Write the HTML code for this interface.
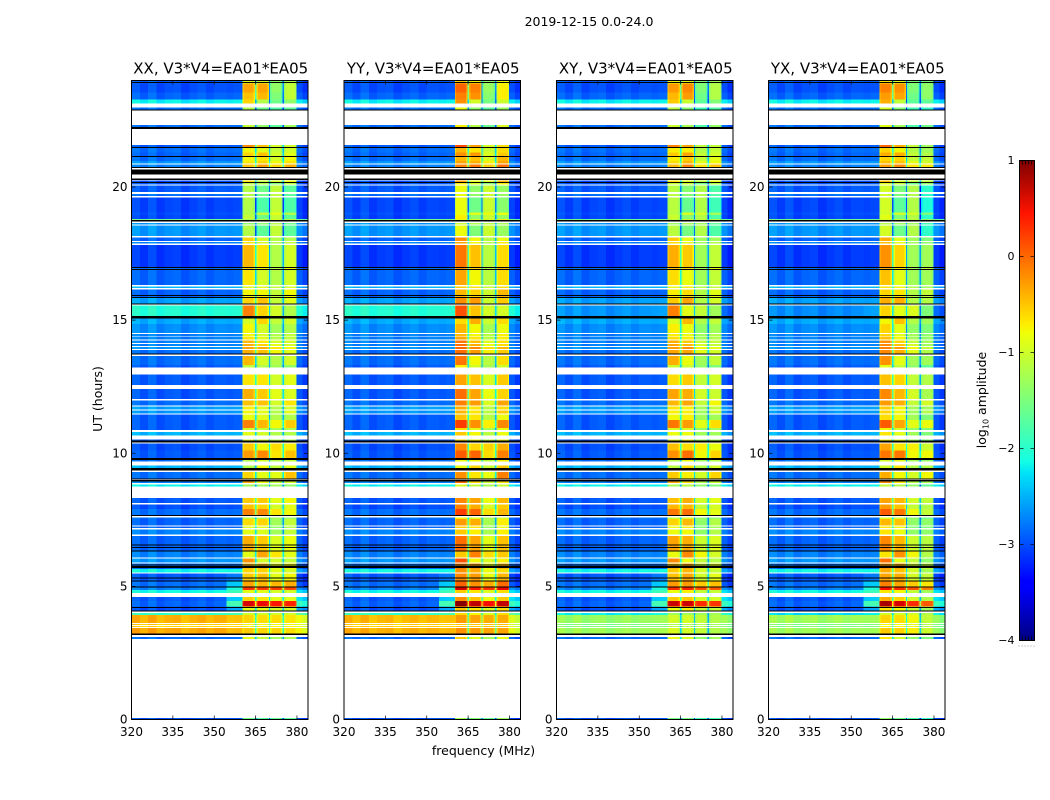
<!DOCTYPE html>
<html lang="en">
<head>
<meta charset="utf-8">
<title>2019-12-15 0.0-24.0</title>
<style>
html,body{margin:0;padding:0;background:#fff;}
svg{display:block;}
text{font-family:"DejaVu Sans","Liberation Sans",sans-serif;fill:#000;}
</style>
</head>
<body>
<svg id="figure" width="1050" height="800" viewBox="0 0 1050 800" xmlns="http://www.w3.org/2000/svg">
  <defs>
    <linearGradient id="jet-gradient" x1="0" y1="1" x2="0" y2="0"></linearGradient>
  </defs>
  <rect x="0" y="0" width="1050" height="800" fill="#ffffff"/>
  <text x="589" y="26" font-size="12.5" text-anchor="middle">2019-12-15 0.0-24.0</text>
  <text x="483.5" y="755" font-size="12.5" text-anchor="middle">frequency (MHz)</text>
  <text x="0" y="0" font-size="12.5" text-anchor="middle" transform="translate(102,399) rotate(-90)">UT (hours)</text>
  <text x="0" y="0" font-size="12.5" text-anchor="middle" transform="translate(986,400) rotate(-90)">log<tspan font-size="8" dy="2.5">10</tspan><tspan dy="-2.5"> amplitude</tspan></text>
  <g id="panels"></g>
  <g id="colorbar"></g>
</svg>
<script>
// ---- chart data ----
const panelNames = ['XX', 'YY', 'XY', 'YX'];
const panelTitleSuffix = ', V3*V4=EA01*EA05';
const xTickValues = [320, 335, 350, 365, 380];
const yTickValues = [0, 5, 10, 15, 20];
const colorbarTickValues = [1, 0, -1, -2, -3, -4];

// channel groups along frequency (MHz)
const channelEdgesMHz = [320,323,326,329,332,335,338,341,344,347,350,354.5,357,360.2,360.7,364.3,364.8,365.3,365.8,369.3,369.8,370.3,370.8,374.3,374.8,375.3,375.8,379.4,379.9,382,384];
const channelBand = ['bg','bg','bg','bg','bg','bg','bg','bg','bg','bg','bg','pre','pre','s1','s1','s1','g1','s2','s2','s2','g2','s3','s3','s3','g3','s4','s4','s4','post','post'];
const channelOffset = [0.08,-0.04,0.1,-0.06,0.02,0.05,-0.08,0,0.06,-0.04,0.03,0,0.03,-0.2,0.03,-0.2,0,-0.2,0.03,-0.2,0,-0.2,0.03,-0.2,0,-0.2,0.03,-0.2,0.05,-0.1];

// XX log10 amplitude: [hourTop, hourBottom, bg, s1, s2, s3, s4, pre?, post?]
const dataRows = [
[24.00,23.89,-2.95,-0.9,-1.0,-1.4,-1.2],
[23.89,23.55,-3.0,-0.35,-0.35,-1.4,-1.1],
[23.55,23.29,-2.9,-0.5,-0.45,-1.5,-1.1],
[23.29,23.14,-2.2,-0.6,-1.2,-1.6,-1.4],
[22.99,22.88,-2.85,-1.2,-1.6,-1.8,-1.7],
[22.32,22.17,-2.85,-1.1,-1.4,-1.7,-1.3],
[21.57,21.46,-2.95,-0.2,-0.5,-1.0,-1.0],
[21.46,21.29,-2.85,-0.8,-0.9,-1.1,-1.0],
[21.29,21.12,-2.9,-0.6,-0.5,-1.0,-0.9],
[21.12,20.97,-2.85,-0.8,-0.7,-1.0,-0.8],
[20.97,20.88,-2.65,-0.7,-0.6,-0.8,-0.7],
[20.84,20.72,-2.75,-0.5,-0.3,-0.6,-0.4],
[20.25,20.17,-3.0,-0.7,-1.1,-1.0,-0.8],
[20.17,20.10,-2.95,-1.1,-1.2,-1.5,-1.1],
[20.06,19.81,-2.95,-1.2,-1.6,-1.1,-1.7],
[19.73,19.66,-2.85,-1.2,-1.6,-1.1,-1.7],
[19.60,19.05,-3.05,-1.2,-1.8,-1.1,-1.8],
[19.05,18.95,-3.0,-1.2,-1.1,-0.9,-1.2],
[18.95,18.79,-3.05,-1.1,-1.6,-1.1,-1.7],
[18.79,18.70,-1.6,-1.2,-1.2,-1.0,-1.1],
[18.65,18.60,-2.65,-1.4,-1.4,-1.2,-1.6],
[18.56,18.16,-2.65,-1.2,-1.7,-1.1,-1.7],
[18.10,17.97,-2.9,-0.6,-1.0,-1.2,-1.2],
[17.94,17.87,-2.75,-0.7,-1.0,-1.2,-1.1],
[17.83,17.00,-3.1,-0.45,-0.7,-1.2,-1.0],
[17.00,16.89,-2.85,-0.6,-0.8,-1.2,-0.8],
[16.89,16.32,-2.9,-0.7,-1.0,-1.2,-1.0],
[16.27,16.21,-2.5,-0.9,-0.9,-1.1,-1.0],
[16.15,15.87,-2.9,-0.8,-0.8,-1.1,-0.8],
[15.84,15.62,-2.6,-0.6,-0.5,-1.1,-0.9],
[15.54,15.16,-2.05,-0.15,-0.6,-1.0,-1.2],
[15.07,14.85,-2.55,-1.0,-0.6,-1.1,-1.0],
[14.85,14.51,-2.7,-0.8,-1.0,-1.3,-1.2],
[14.48,14.41,-2.75,-0.8,-1.0,-1.2,-1.1],
[14.38,14.27,-2.75,-0.7,-0.9,-1.2,-1.1],
[14.24,14.14,-2.75,-0.45,-0.7,-1.0,-1.0],
[14.10,14.03,-2.75,-0.4,-0.6,-0.9,-1.0],
[13.99,13.91,-2.65,-0.35,-0.4,-0.7,-0.8],
[13.88,13.75,-2.85,-0.4,-0.5,-0.8,-0.9],
[13.66,13.32,-2.85,-0.45,-1.0,-1.2,-1.0],
[13.32,13.22,-2.95,-1.1,-1.2,-1.3,-1.4],
[12.95,12.57,-2.95,-0.7,-0.7,-1.0,-0.9],
[12.42,12.04,-2.95,-0.4,-0.55,-0.9,-0.95],
[11.99,11.79,-2.85,-0.5,-0.5,-1.0,-0.7],
[11.75,11.65,-2.6,-0.75,-0.9,-1.2,-1.0],
[11.60,11.50,-2.65,-0.8,-0.9,-1.2,-0.9],
[11.45,11.25,-2.95,-0.85,-0.9,-1.2,-1.2],
[11.25,10.95,-2.95,-0.15,-0.45,-0.8,-0.55],
[10.95,10.88,-2.95,-1.0,-1.1,-1.3,-1.2],
[10.79,10.66,-2.5,-0.9,-1.0,-1.2,-1.2],
[10.51,10.40,-2.95,-1.0,-1.0,-1.2,-1.2],
[10.37,10.10,-3.0,-0.55,-0.8,-0.65,-0.75],
[10.10,9.82,-2.95,-0.3,-0.2,-0.7,-0.5],
[9.74,9.69,-2.85,-1.2,-1.0,-1.2,-1.1],
[9.54,9.35,-2.5,-1.2,-0.8,-1.1,-0.9],
[9.29,9.03,-2.85,-0.6,-0.9,-0.9,-0.5],
[8.94,8.89,-2.75,-0.4,-0.8,-1.1,-1.0],
[8.83,8.75,-2.2,-1.3,-1.3,-1.3,-1.4],
[8.31,8.13,-2.95,-0.55,-0.55,-0.9,-0.8],
[8.08,7.90,-3.0,-0.5,-0.6,-1.0,-0.9],
[7.90,7.69,-2.85,-0.15,-0.2,-0.7,-0.8],
[7.59,7.53,-2.85,-1.1,-1.1,-1.3,-1.3],
[7.53,7.29,-2.9,-0.65,-0.6,-1.3,-1.1],
[7.25,7.19,-2.9,-0.9,-0.9,-1.4,-1.2],
[7.14,6.94,-2.75,-0.9,-0.95,-1.3,-1.1],
[6.89,6.32,-2.9,-0.4,-0.55,-0.95,-0.85],
[6.32,6.08,-2.75,-0.9,-0.35,-0.7,-0.9],
[6.04,5.89,-2.65,-0.25,-1.0,-1.0,-1.1],
[5.85,5.65,-2.85,-0.5,-0.5,-0.9,-0.8],
[5.65,5.53,-2.15,-0.6,-0.6,-0.9,-1.0,-2.15,-2.6],
[5.48,5.20,-2.95,-0.55,-0.5,-0.9,-0.8,-2.8,-3.1],
[5.20,5.00,-2.85,-0.35,-0.45,-0.45,-0.4,-2.4,-3.0],
[4.97,4.86,-2.75,0.25,0.2,0.2,0.15,-2.1,-2.7],
[4.86,4.75,-2.15,-0.9,-0.9,-1.0,-1.0,-1.9,-2.3],
[4.60,4.45,-2.95,-0.6,-0.7,-0.9,-0.9,-2.4,-2.3],
[4.45,4.25,-2.9,0.6,0.5,0.4,0.35,-1.85,-1.95],
[4.25,4.10,-3.0,-0.9,-0.9,-1.0,-1.0,-2.6,-2.6],
[4.00,3.92,-1.95,-1.0,-1.0,-1.0,-1.0,-1.85,-1.7],
[3.92,3.63,-0.4,-0.6,-0.65,-0.65,-0.7,-0.5,-0.85],
[3.59,3.54,-0.55,-0.8,-0.8,-0.8,-0.8,-0.6,-0.9],
[3.51,3.47,-0.6,-0.8,-0.8,-0.8,-0.8,-0.6,-0.9],
[3.43,3.23,-0.35,-0.55,-0.6,-0.6,-0.65,-0.45,-0.8],
[3.09,3.02,-2.85,-0.9,-1.1,-1.3,-1.2],
[0.06,0.00,-3.0,-1.6,-1.7,-1.7,-1.7]
];

// rows that print as solid black, [hourTop, hourBottom]
const blackRows = [
[23.95,23.90],[22.92,22.88],[22.25,22.17],[21.50,21.46],[21.16,21.12],[20.76,20.72],
[20.66,20.47],[20.31,20.27],[20.19,20.16],[18.76,18.70],[17.00,16.96],
[16.92,16.89],[15.94,15.90],[15.87,15.84],[15.62,15.59],[15.16,15.07],[13.75,13.71],
[10.48,10.40],[9.82,9.74],[9.44,9.35],[9.06,9.03],[8.99,8.94],[7.69,7.66],
[6.57,6.53],[6.48,6.44],[6.35,6.32],[5.82,5.78],[5.76,5.69],[5.33,5.30],
[5.23,5.20],[5.00,4.97],[4.22,4.19],[4.10,4.07],[3.23,3.17]
];

// per-polarization level shifts on [bg, s1, s2, s3, s4]
const xxShift = [0, 0, 0, 0, 0];
const yyShift = [0, 0.35, 0.2, 0.05, 0.35];
const xyShift = [0, 0.05, 0.15, -0.1, -0.1];
const yxShift = [0, 0.2, 0.1, -0.1, -0.3];

// rows whose level differs by polarization: [hourTop, bg, s1, s2, s3, s4, pre, post]
const yyRowOverrides = [
[3.92,-0.45,-0.3,-0.35,-0.4,-0.4,-0.5,-0.95],
[3.59,-0.55,-0.5,-0.5,-0.5,-0.5,-0.6,-1.0],
[3.51,-0.55,-0.5,-0.5,-0.5,-0.5,-0.6,-1.0],
[3.43,-0.4,-0.25,-0.3,-0.35,-0.35,-0.45,-0.9],
[15.54,-2.05,0.1,-0.5,-1.0,-1.0,-2.05,-2.1]
];
const xyRowOverrides = [
[4.00,-2.2,-1.3,-1.3,-1.3,-1.3,-2.1,-2.0],
[3.92,-1.35,-1.0,-1.0,-1.1,-1.2,-1.3,-1.3],
[3.59,-1.5,-1.2,-1.2,-1.2,-1.3,-1.5,-1.5],
[3.51,-1.5,-1.2,-1.2,-1.2,-1.3,-1.5,-1.5],
[3.43,-1.3,-0.95,-1.0,-1.1,-1.2,-1.25,-1.3],
[15.54,-2.65,-0.15,-0.9,-1.1,-1.3,-2.6,-2.9]
];
const yxRowOverrides = [
[4.00,-2.3,-1.0,-1.0,-1.0,-1.2,-2.2,-2.2],
[3.92,-1.3,-0.6,-0.65,-0.8,-1.1,-1.3,-1.35],
[3.59,-1.5,-0.8,-0.8,-0.9,-1.2,-1.5,-1.5],
[3.51,-1.5,-0.8,-0.8,-0.9,-1.2,-1.5,-1.5],
[3.43,-1.3,-0.55,-0.6,-0.75,-1.05,-1.3,-1.35],
[15.54,-2.7,-0.6,-0.9,-0.95,-1.5,-2.6,-2.9]
];

// ---- layout and scales ----
const svgNS = 'http://www.w3.org/2000/svg';
const panelLefts = [131.5, 344, 556.5, 768.5];
const panelWidth = 176.5;
const plotTop = 80.5, plotBottom = 719.5;
const freqMin = 320, freqMax = 384, hourMin = 0, hourMax = 24;
const panelShifts = [xxShift, yyShift, xyShift, yxShift];
const panelOverrides = [[], yyRowOverrides, xyRowOverrides, yxRowOverrides];
const colorMin = -4, colorMax = 1;
const cbLeft = 1019.5, cbWidth = 15, cbTop = 160.5, cbBottom = 640.5;

function xScale(mhz, left) { return left + (mhz - freqMin) / (freqMax - freqMin) * panelWidth; }
function yScale(hour) { return plotBottom - (hour - hourMin) / (hourMax - hourMin) * (plotBottom - plotTop); }
function cbScale(v) { return cbBottom - (v - colorMin) / (colorMax - colorMin) * (cbBottom - cbTop); }

function jetPart(t, pts) {
  for (let i = 1; i < pts.length; i++) {
    if (t <= pts[i][0]) {
      const a = pts[i - 1], b = pts[i];
      return a[1] + (b[1] - a[1]) * (t - a[0]) / (b[0] - a[0]);
    }
  }
  return pts[pts.length - 1][1];
}
const jetR = [[0,0],[0.35,0],[0.66,1],[0.89,1],[1,0.5]];
const jetG = [[0,0],[0.125,0],[0.375,1],[0.64,1],[0.91,0],[1,0]];
const jetB = [[0,0.5],[0.11,1],[0.34,1],[0.65,0],[1,0]];
function jetColor(v) {
  const t = Math.max(0, Math.min(1, (v - colorMin) / (colorMax - colorMin)));
  const r = Math.round(255 * jetPart(t, jetR));
  const g = Math.round(255 * jetPart(t, jetG));
  const b = Math.round(255 * jetPart(t, jetB));
  return 'rgb(' + r + ',' + g + ',' + b + ')';
}
function make(tag, parent, attrs) {
  const el = document.createElementNS(svgNS, tag);
  for (const k in attrs) el.setAttribute(k, attrs[k]);
  parent.appendChild(el);
  return el;
}
function rowLevels(row, panelIndex) {
  const shift = panelShifts[panelIndex];
  const over = panelOverrides[panelIndex].find(function (o) { return o[0] === row[0]; });
  if (over) {
    return { bg: over[1], s1: over[2], s2: over[3], s3: over[4], s4: over[5], pre: over[6], post: over[7] };
  }
  return {
    bg: row[2] + shift[0],
    s1: row[3] + shift[1],
    s2: row[4] + shift[2],
    s3: row[5] + shift[3],
    s4: row[6] + shift[4],
    pre: (row[7] !== undefined ? row[7] : row[2]) + shift[0],
    post: (row[8] !== undefined ? row[8] : row[2] - 0.05) + shift[0]
  };
}
function cellLevel(levels, band) {
  if (band === 'g1') return Math.min(levels.s1, levels.s2) - 1.3;
  if (band === 'g2') return Math.min(levels.s2, levels.s3) - 1.3;
  if (band === 'g3') return Math.min(levels.s3, levels.s4) - 1.3;
  return levels[band];
}

// ---- panels ----
const panelsRoot = document.getElementById('panels');
panelNames.forEach(function (name, p) {
  const left = panelLefts[p];
  const right = left + panelWidth;
  const g = make('g', panelsRoot, {});
  
  

  const heat = make('g', g, { 'shape-rendering': 'crispEdges' });
  
  

  dataRows.forEach(function (row) {
    const levels = rowLevels(row, p);
    const y0 = yScale(row[0]);
    const y1 = yScale(row[1]);
    channelBand.forEach(function (band, c) {
      const x0 = xScale(channelEdgesMHz[c], left);
      const x1 = xScale(channelEdgesMHz[c + 1], left);
      const isGap = band.charAt(0) === 'g';
      const value = cellLevel(levels, band) + (isGap ? 0 : channelOffset[c]);
      const cell = make('rect', heat, { x: x0, y: y0, width: x1 - x0, height: y1 - y0, fill: jetColor(value) });
      
      
    });
  });

  blackRows.forEach(function (row) {
    const y0 = yScale(row[0]);
    const y1 = yScale(row[1]);
    const bar = make('rect', heat, { x: left, y: y0, width: panelWidth, height: Math.max(1, y1 - y0), fill: '#000' });
    
    
  });

  const frame = make('rect', g, { x: left, y: plotTop, width: panelWidth, height: plotBottom - plotTop, fill: 'none', stroke: '#000', 'stroke-width': 1 });
  
  

  const title = make('text', g, { x: left + panelWidth / 2 + 1, y: 73.5, 'font-size': 15, 'text-anchor': 'middle' });
  
  
  title.textContent = name + panelTitleSuffix;

  xTickValues.forEach(function (v) {
    const x = xScale(v, left);
    const tb = make('line', g, { x1: x, x2: x, y1: plotBottom, y2: plotBottom - 4, stroke: '#000', 'stroke-width': 0.7 });
    
    
    const tt = make('line', g, { x1: x, x2: x, y1: plotTop, y2: plotTop + 4, stroke: '#000', 'stroke-width': 0.7 });
    
    
    const lab = make('text', g, { x: x, y: 736, 'font-size': 12, 'text-anchor': 'middle' });
    
    
    lab.textContent = String(v);
  });
  yTickValues.forEach(function (v) {
    const y = yScale(v);
    const tl = make('line', g, { x1: left, x2: left + 4, y1: y, y2: y, stroke: '#000', 'stroke-width': 0.7 });
    
    
    const tr = make('line', g, { x1: right, x2: right - 4, y1: y, y2: y, stroke: '#000', 'stroke-width': 0.7 });
    
    
    const lab = make('text', g, { x: left - 4, y: y + 4, 'font-size': 12, 'text-anchor': 'end' });
    
    
    lab.textContent = String(v);
  });
});

// ---- colorbar ----
const gradient = document.getElementById('jet-gradient');
const gradientStopValues = [-4, -3.45, -3.375, -3, -2.25, -2.125, -1.8, -1.25, -0.8, -0.7, 0, 0.45, 1];
gradientStopValues.forEach(function (v) {
  make('stop', gradient, { offset: (v - colorMin) / (colorMax - colorMin), 'stop-color': jetColor(v) });
});
const cbRoot = document.getElementById('colorbar');
const cbRect = make('rect', cbRoot, { x: cbLeft, y: cbTop, width: cbWidth, height: cbBottom - cbTop, fill: 'url(#jet-gradient)', stroke: '#000', 'stroke-width': 1 });


colorbarTickValues.forEach(function (v) {
  const y = cbScale(v);
  const t1 = make('line', cbRoot, { x1: cbLeft, x2: cbLeft + 4, y1: y, y2: y, stroke: '#000', 'stroke-width': 0.7 });
  
  
  const t2 = make('line', cbRoot, { x1: cbLeft + cbWidth, x2: cbLeft + cbWidth - 4, y1: y, y2: y, stroke: '#000', 'stroke-width': 0.7 });
  
  
  const lab = make('text', cbRoot, { x: cbLeft - 5, y: y + 3.5, 'font-size': 11, 'text-anchor': 'end' });
  
  
  lab.textContent = String(v).replace('-', '\u2212');
});
[0.2, 0.4, 0.6, 0.8].forEach(function (f) {
  const x = cbLeft + f * cbWidth;
  const a = make('line', cbRoot, { x1: x, x2: x, y1: cbTop, y2: cbTop + 4, stroke: '#000', 'stroke-width': 0.7 });
  
  
  const b = make('line', cbRoot, { x1: x, x2: x, y1: cbBottom, y2: cbBottom - 4, stroke: '#000', 'stroke-width': 0.7 });
  
  
});
[0, 0.2, 0.4, 0.6, 0.8, 1].forEach(function (f) {
  const dot = make('rect', cbRoot, { x: cbLeft - 1 + f * cbWidth, y: 645.5, width: 1, height: 1, fill: '#999' });
  
  
});
</script>
</body>
</html>
